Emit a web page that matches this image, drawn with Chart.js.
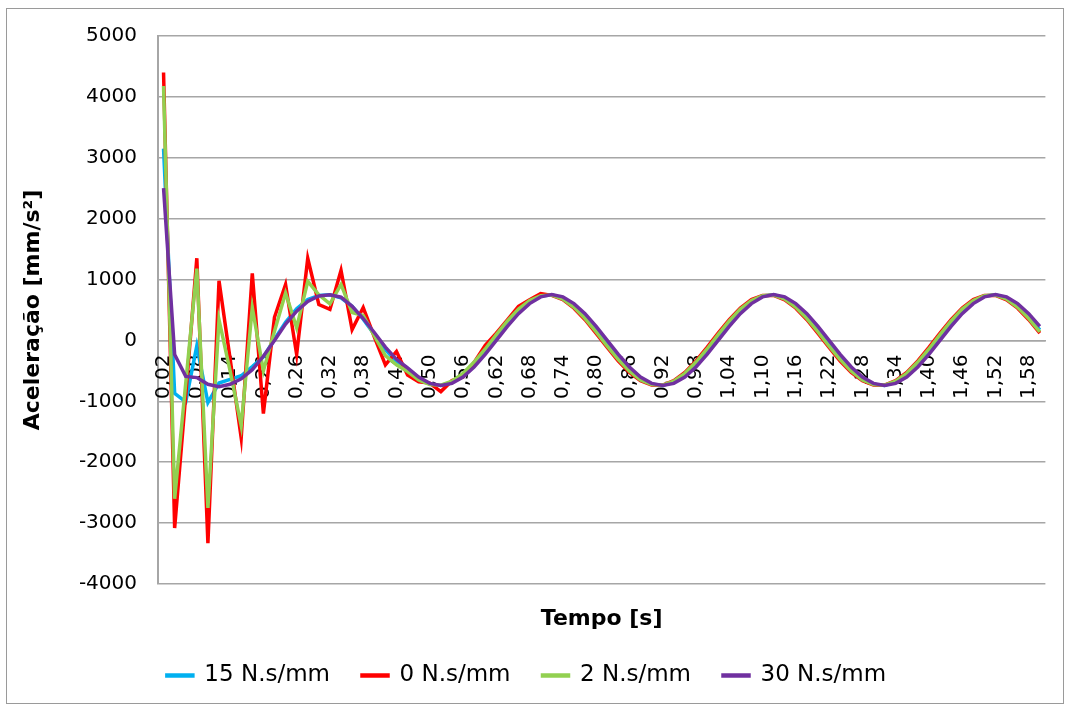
<!DOCTYPE html>
<html>
<head>
<meta charset="utf-8">
<script src="https://cdn.jsdelivr.net/npm/chart.js@4.4.0/dist/chart.umd.min.js"></script>
<style>
  html, body { margin: 0; padding: 0; background: #fff; }
  #wrap { position: relative; width: 1070px; height: 709px; }
  #frame { position: absolute; left: 6px; top: 8px; width: 1056px; height: 694px; border: 1px solid #9a9a9a; pointer-events: none; }
</style>
</head>
<body>
<div id="wrap">
  <canvas id="accChart"></canvas>
  <div id="frame"></div>
</div>
<script>
// time steps (s), Portuguese decimal comma
const tempo = ['0,02','0,04','0,06','0,08','0,10','0,12','0,14','0,16','0,18','0,20',
  '0,22','0,24','0,26','0,28','0,30','0,32','0,34','0,36','0,38','0,40',
  '0,42','0,44','0,46','0,48','0,50','0,52','0,54','0,56','0,58','0,60',
  '0,62','0,64','0,66','0,68','0,70','0,72','0,74','0,76','0,78','0,80',
  '0,82','0,84','0,86','0,88','0,90','0,92','0,94','0,96','0,98','1,00',
  '1,02','1,04','1,06','1,08','1,10','1,12','1,14','1,16','1,18','1,20',
  '1,22','1,24','1,26','1,28','1,30','1,32','1,34','1,36','1,38','1,40',
  '1,42','1,44','1,46','1,48','1,50','1,52','1,54','1,56','1,58','1,60'];

// acceleration (mm/s²)
const acc15 = [3150,-870,-1010,-90,-1020,-700,-640,-580,-430,-270,
  20,300,520,670,740,750,700,560,350,100,
  -150,-350,-490,-630,-715,-740,-685,-565,-385,-175,
  60,285,490,640,730,750,695,570,390,175,
  -60,-285,-480,-630,-720,-740,-685,-560,-385,-170,
  60,290,490,640,730,750,695,570,390,175,
  -60,-285,-480,-630,-720,-740,-685,-560,-385,-170,
  60,290,490,640,730,750,695,570,390,175];

const acc0 = [4400,-3080,-900,1350,-3330,980,-300,-1600,1100,-1200,
  380,920,-230,1350,590,510,1150,180,540,60,
  -400,-180,-570,-680,-700,-840,-660,-600,-360,-80,
  120,340,560,670,770,740,670,530,340,115,
  -115,-340,-525,-660,-730,-735,-660,-525,-335,-115,
  120,340,530,670,740,740,665,530,340,115,
  -115,-340,-525,-660,-730,-735,-660,-525,-335,-115,
  120,340,530,670,740,740,665,530,340,120];

const acc2 = [4180,-2600,-700,1180,-2750,340,-500,-1400,540,-500,
  150,780,210,970,750,600,920,460,410,80,
  -250,-400,-510,-650,-725,-735,-670,-540,-355,-140,
  95,320,515,655,735,745,680,545,360,140,
  -95,-315,-505,-650,-725,-735,-670,-540,-355,-140,
  95,320,515,655,735,745,680,545,360,140,
  -95,-315,-505,-650,-725,-735,-670,-540,-355,-140,
  95,320,515,655,735,745,680,545,360,140];

const acc30 = [2500,-230,-590,-610,-720,-760,-720,-630,-480,-260,
  0,270,480,640,730,750,710,560,360,130,
  -110,-310,-450,-600,-705,-740,-705,-600,-435,-230,
  0,230,440,605,715,755,715,605,440,230,
  0,-230,-435,-600,-705,-740,-705,-600,-435,-230,
  0,230,440,605,715,755,715,605,440,230,
  0,-230,-435,-600,-705,-740,-705,-600,-435,-230,
  0,230,440,605,715,755,715,605,440,230];

const yTicks = [-4000,-3000,-2000,-1000,0,1000,2000,3000,4000,5000];

const gridGray = '#a6a6a6';
const tickFont = { family: 'DejaVu Sans', size: 20 };
const titleFont = { family: 'DejaVu Sans', size: 22, weight: 'bold' };

function line(label, data, color, order) {
    return {
        label: label,
        data: data,
        borderColor: color,
        backgroundColor: color,
        borderWidth: 3.5,
        pointRadius: 0,
        tension: 0,
        order: order,
        xAxisID: 'x',
        yAxisID: 'y'
    };
}

new Chart(document.getElementById('accChart'), {
    type: 'line',
    data: {
        labels: tempo,
        datasets: [
            line('15 N.s/mm', acc15, '#00b0f0', 3),
            line('0 N.s/mm', acc0, '#ff0000', 2),
            line('2 N.s/mm', acc2, '#92d050', 1),
            line('30 N.s/mm', acc30, '#7030a0', 0)
        ]
    },
    options: {
        responsive: true,
        maintainAspectRatio: false,
        animation: false,
        layout: { padding: { top: 36, right: 17, bottom: 12, left: 0 } },
        plugins: {
            tooltip: { enabled: false },
            legend: {
                position: 'bottom',
                labels: {
                    font: { family: 'DejaVu Sans', size: 23 },
                    color: '#000',
                    boxWidth: 26,
                    boxHeight: 1,
                    padding: 32,
                    sort: (a, b) => a.datasetIndex - b.datasetIndex
                }
            }
        },
        scales: {
            y: {
                min: -4000,
                max: 5000,
                afterBuildTicks: (s) => { s.ticks = yTicks.map(v => ({ value: v })); },
                afterFit: (s) => { s.width = 158; },
                grid: { color: gridGray, lineWidth: 1.5, drawTicks: false },
                border: { display: true, color: gridGray, width: 2 },
                ticks: { font: tickFont, color: '#000', padding: 21, callback: (v) => String(v) },
                title: { display: true, text: 'Aceleração [mm/s²]', font: titleFont, color: '#000', padding: { top: 20, bottom: 0 } }
            },
            x: {
                type: 'category',
                position: { y: 0 },
                offset: true,
                grid: { display: false },
                border: { display: true, color: gridGray, width: 1.5 },
                ticks: {
                    autoSkip: false,
                    minRotation: 90,
                    maxRotation: 90,
                    padding: 6,
                    font: tickFont,
                    color: '#000',
                    callback: function (val, idx) { return idx % 3 === 0 ? this.getLabelForValue(val) : ''; }
                }
            },
            x2: {
                type: 'category',
                position: 'bottom',
                offset: true,
                afterFit: (s) => { s.height = 48; },
                grid: { display: false, drawTicks: false },
                border: { display: false },
                ticks: { display: false },
                title: { display: true, text: 'Tempo [s]', font: titleFont, color: '#000', padding: { top: 9, bottom: 0 } }
            }
        }
    }
});
</script>
</body>
</html>
